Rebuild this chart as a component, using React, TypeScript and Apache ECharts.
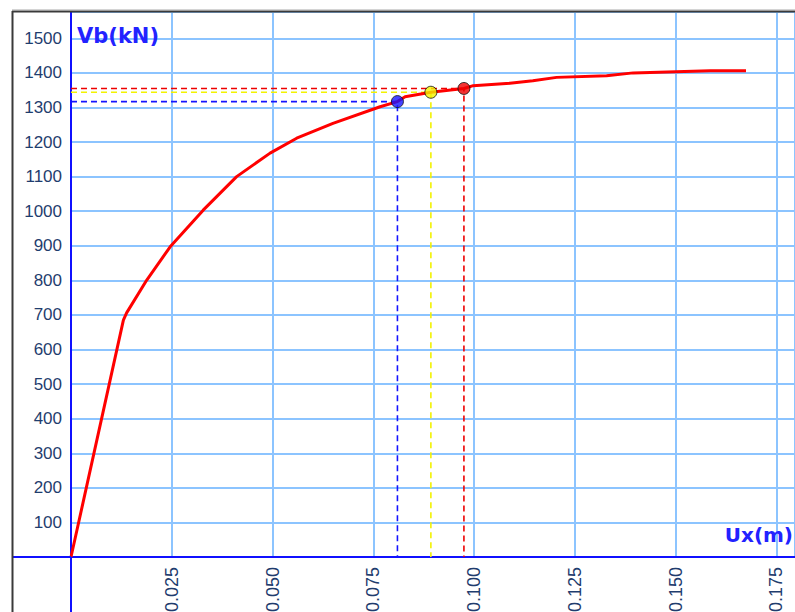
import React, { useEffect, useRef } from "react";
import * as echarts from "echarts";

// Pushover curve: roof displacement Ux (m) vs base shear Vb (kN)
const ux = [0, 0.0130, 0.0138, 0.0188, 0.0246, 0.0328, 0.0411, 0.0494, 0.0560, 0.0650, 0.0767, 0.0810, 0.0829, 0.0893, 0.0975, 0.0998, 0.1089, 0.1146, 0.1205, 0.1329, 0.1395, 0.1586, 0.1675];
const vb = [0, 685, 706, 801, 897, 1003, 1100, 1168, 1211, 1254, 1302, 1317, 1331, 1344, 1355, 1363, 1370, 1377, 1387, 1392, 1400, 1406, 1406];

// Marked performance points
const pointUx = [0.0810, 0.0893, 0.0975];
const pointVb = [1317, 1344, 1355];
const pointColors = ["#1414ff", "#f2f200", "#ee0000"];

const xTickInterval = 0.025;
const yTickInterval = 100;
const xAxisTitle = "Ux(m)";
const yAxisTitle = "Vb(kN)";

export default function App() {
  const ref = useRef<HTMLDivElement>(null);

  useEffect(() => {
    if (!ref.current) return;
    const chart = echarts.init(ref.current, undefined, { renderer: "svg" });

    const W = 795;
    const H = 612;
    const gLeft = 71;
    const gTop = 12;
    const gBottom = 55;
    const pxPerX = 4030;
    const pxPerY = 0.3458;
    const xMax = (W - gLeft) / pxPerX;
    const yMax = (H - gBottom - gTop) / pxPerY;
    const axisY = H - gBottom;

    const labelColor = "#1f3d6e";
    const gridColor = "#8cc4ff";
    const axisBlue = "#1010ff";

    const dashSeries = pointUx.map((x, i) => ({
      type: "line",
      data: [[0, pointVb[i]], [x, pointVb[i]], [x, 0]],
      symbol: "none",
      silent: true,
      lineStyle: { color: pointColors[i], width: 1.6, type: [6, 4] },
      z: 3,
    }));

    chart.setOption({
      animation: false,
      backgroundColor: "#ffffff",
      grid: {
        left: gLeft,
        top: gTop,
        right: 0,
        bottom: gBottom,
        containLabel: false,
        outerBoundsMode: "none",
      },
      xAxis: {
        type: "value",
        min: 0,
        max: xMax,
        interval: xTickInterval,
        axisLine: { show: true, onZero: false, lineStyle: { color: axisBlue, width: 2 } },
        axisTick: { show: false },
        splitLine: { show: true, lineStyle: { color: gridColor, width: 2 } },
        axisLabel: {
          rotate: 90,
          margin: 10,
          showMinLabel: false,
          showMaxLabel: false,
          hideOverlap: false,
          color: labelColor,
          fontFamily: "Liberation Sans",
          fontSize: 18,
          formatter: (v: number) => v.toFixed(3),
        },
      },
      yAxis: {
        type: "value",
        min: 0,
        max: yMax,
        interval: yTickInterval,
        axisLine: { show: true, onZero: false, lineStyle: { color: axisBlue, width: 2 } },
        axisTick: { show: false },
        splitLine: { show: true, lineStyle: { color: gridColor, width: 2 } },
        axisLabel: {
          margin: 9,
          showMinLabel: false,
          showMaxLabel: false,
          hideOverlap: false,
          color: labelColor,
          fontFamily: "Liberation Sans",
          fontSize: 17,
          formatter: (v: number) => String(Math.round(v)),
        },
      },
      series: [
        ...dashSeries,
        {
          type: "line",
          data: ux.map((x, i) => [x, vb[i]]),
          symbol: "none",
          silent: true,
          lineStyle: { color: "#ff0000", width: 3 },
          z: 4,
        },
        {
          type: "scatter",
          data: pointUx.map((x, i) => ({
            value: [x, pointVb[i]],
            itemStyle: { color: pointColors[i], borderColor: "#111111", borderWidth: 1 },
          })),
          symbol: "circle",
          symbolSize: 12,
          silent: true,
          z: 5,
        },
      ],
      graphic: [
        {
          type: "line",
          shape: { x1: gLeft, y1: axisY, x2: gLeft, y2: H },
          style: { stroke: axisBlue, lineWidth: 2 },
          z: 10,
        },
        {
          type: "line",
          shape: { x1: 12, y1: axisY, x2: gLeft, y2: axisY },
          style: { stroke: axisBlue, lineWidth: 2 },
          z: 10,
        },
        {
          type: "line",
          shape: { x1: 12, y1: 9.5, x2: W, y2: 9.5 },
          style: { stroke: "#d4d4d4", lineWidth: 1 },
          z: 10,
        },
        {
          type: "line",
          shape: { x1: 12, y1: 11.5, x2: W, y2: 11.5 },
          style: { stroke: "#3a3a3a", lineWidth: 2 },
          z: 11,
        },
        {
          type: "line",
          shape: { x1: 12.5, y1: 11, x2: 12.5, y2: H },
          style: { stroke: "#3a3a3a", lineWidth: 2 },
          z: 11,
        },
        {
          type: "text",
          x: 77,
          y: 36,
          style: {
            text: yAxisTitle,
            fill: "#2222ff",
            font: "bold 21px 'DejaVu Sans'",
            textAlign: "left",
            textVerticalAlign: "middle",
          },
          z: 12,
        },
        {
          type: "text",
          x: 793,
          y: 535,
          style: {
            text: xAxisTitle,
            fill: "#2222ff",
            font: "bold 20px 'DejaVu Sans'",
            textAlign: "right",
            textVerticalAlign: "middle",
          },
          z: 12,
        },
      ],
    });

    return () => chart.dispose();
  }, []);

  return (
    <div
      ref={ref}
      style={{ position: "fixed", left: 0, top: 0, width: 795, height: 612 }}
    />
  );
}
